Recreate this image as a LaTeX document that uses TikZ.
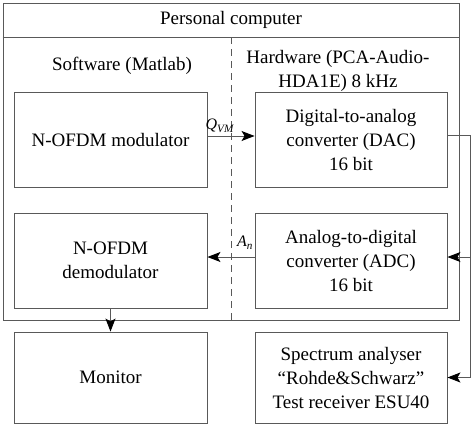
\documentclass[tikz,border=0pt]{standalone}
\usepackage{fontspec}
\setmainfont{Liberation Serif}
\usetikzlibrary{arrows.meta}
\begin{document}
\begin{tikzpicture}[x=1pt,y=-1pt,
  every node/.style={font=\fontsize{19}{24}\selectfont},
  ln/.style={draw=black!65,line width=0.9pt},
  blk/.style={ln,rectangle,align=center,inner sep=0pt},
  arr/.style={ln,-{Stealth[length=13pt,width=10pt,inset=3pt,black]}},
  dsh/.style={ln,dash pattern=on 7pt off 5pt},
  lbl/.style={font=\fontsize{16}{18}\selectfont,inner sep=0pt}]
\useasboundingbox (0,0) rectangle (474,431);
\node[blk,minimum width=456pt,minimum height=317pt] (pc) at (231,161.5) {};
\node (hdr) at (231,20) {Personal computer};
\coordinate (hl) at (231,37);
\draw[ln] (pc.west |- hl) -- (pc.east |- hl);
\draw[dsh] (hl) -- (pc.south);
\node (sw) at (122,66) {Software (Matlab)};
\node[align=center] (hw) at (338,71) {Hardware (PCA-Audio-\\HDA1E) 8 kHz};
\node[blk,minimum width=193pt,minimum height=95pt] (mod) at (110.5,139.5) {N-OFDM modulator};
\node[blk,minimum width=192pt,minimum height=95pt] (dac) at (351,139.5) {Digital-to-analog\\converter (DAC)\\16 bit};
\node[blk,minimum width=193pt,minimum height=95pt] (dem) at (110.5,260.5) {N-OFDM\\demodulator};
\node[blk,minimum width=192pt,minimum height=95pt] (adc) at (351,260.5) {Analog-to-digital\\converter (ADC)\\16 bit};
\node[blk,minimum width=193pt,minimum height=91pt] (mon) at (110.5,377.5) {Monitor};
\node[blk,minimum width=192pt,minimum height=91pt] (spec) at (351,377.5) {Spectrum analyser\\“Rohde\&Schwarz”\\Test receiver ESU40};
\draw[arr] ([yshift=3.5pt]mod.east) -- ([yshift=3.5pt]dac.west);
\node[lbl] (q) at (220,126) {\textit{Q}\textsubscript{\textit{VM}}};
\draw[arr] ([yshift=3.5pt]adc.west) -- ([yshift=3.5pt]dem.east);
\node[lbl] (an) at (245,243) {\textit{A}\textsubscript{\textit{n}}};
\draw[arr] (dem.south) -- (mon.north);
\coordinate (r2) at (470,377.5);
\coordinate (ain) at ([yshift=3.5pt]adc.east);
\draw[arr] ([yshift=4.5pt]dac.east) -| (r2) -- (spec.east);
\draw[arr] (r2 |- ain) -- (ain);
\end{tikzpicture}
\end{document}
